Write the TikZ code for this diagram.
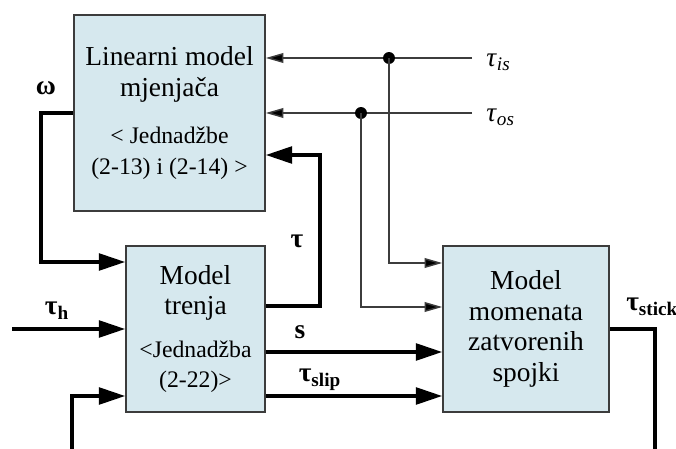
\documentclass[tikz,border=0pt]{standalone}
\usepackage{amsmath}
\usepackage{fontspec}
\setmainfont{Liberation Serif}
\usetikzlibrary{arrows.meta,calc}
\definecolor{boxfill}{RGB}{214,232,238}
\definecolor{boxline}{RGB}{60,60,60}
\newcommand{\bigfont}{\fontsize{15.6}{17.5}\selectfont}
\newcommand{\eqfont}{\fontsize{13.5}{16}\selectfont}

\tikzset{
  blok/.style={draw=boxline, line width=0.9pt, fill=boxfill, align=center, font=\bigfont, inner sep=0pt},
  debela/.style={line width=2pt, -{Triangle[length=15pt,width=9.5pt]}},
  tanka/.style={draw=boxline, line width=0.85pt, -{Triangle[length=10pt,width=5.5pt,fill=black]}},
  oznaka/.style={font=\bigfont, inner sep=0pt},
  cvor/.style={circle, fill=black, inner sep=0pt, minimum size=6.8pt},
}

\begin{document}
\begin{tikzpicture}[x=0.02cm, y=-0.02cm]

    \useasboundingbox (0,0) rectangle (676,449);
    \clip (0,0) rectangle (676,449);

    % blokovi
    \node[blok, minimum width=3.82cm, minimum height=3.92cm] (lin) at (169.5,113)
        {Linearni model\\ mjenjača\\[9pt] \eqfont < Jednadžbe\\ \eqfont (2-13) i (2-14) >};
    \node[blok, minimum width=2.78cm, minimum height=3.32cm] (tren) at (195.5,329)
        {Model\\ trenja\\[6.5pt] \eqfont <Jednadžba\\ \eqfont (2-22)>};
    \node[blok, minimum width=3.32cm, minimum height=3.32cm] (mom) at (526,329)
        {Model\\ momenata\\ zatvorenih\\ spojki};

    % ulazi
    \coordinate (isin) at (472,58);
    \coordinate (osin) at (472,113);
    \coordinate (hin) at (12,329);
    \node[anchor=west, oznaka] (tis) at (486,62) {\textit{τ}$_{\textit{is}}$};
    \node[anchor=west, oznaka] (tos) at (486,117) {\textit{τ}$_{\textit{os}}$};

    \draw[tanka] (isin) -- (isin -| lin.east);
    \draw[tanka] (osin) -- (osin -| lin.east);
    \node[cvor] (jis) at (389,58) {};
    \node[cvor] (jos) at (361,113) {};
    \draw[tanka] (jis.center) |- (mom.west |- 0,263);
    \draw[tanka] (jos.center) |- (mom.west |- 0,307);

    % debele veze
    \draw[debela] (lin.west) -- ++(-32,0) |- (tren.west |- 0,262);
    \node[oznaka] (omega) at (46,88) {\textbf{ω}};

    \draw[debela] (hin) -- (tren.west);
    \node[oznaka] (tauh) at (57,311) {\textbf{τ}$_{\textbf{h}}$};

    \coordinate (tkut) at (320,155);
    \draw[debela] (tren.east |- 0,306) -| (tkut) -- (tkut -| lin.east);
    \node[oznaka] (tau) at (297,241) {\textbf{τ}};

    \draw[debela] (tren.east |- 0,352) -- (mom.west |- 0,352);
    \node[oznaka] (s) at (300,332) {\textbf{s}};

    \draw[debela] (tren.east |- 0,396) -- (mom.west |- 0,396);
    \node[oznaka] (tslip) at (320,380) {\textbf{τ}$_{\textbf{slip}}$};

    \draw[debela] (mom.east) -| (655,452) -| (72,396) -- (tren.west |- 0,396);
    \node[anchor=west, oznaka] (tstick) at (626,307) {\textbf{τ}$_{\textbf{stick}}$};

\end{tikzpicture}
\end{document}
